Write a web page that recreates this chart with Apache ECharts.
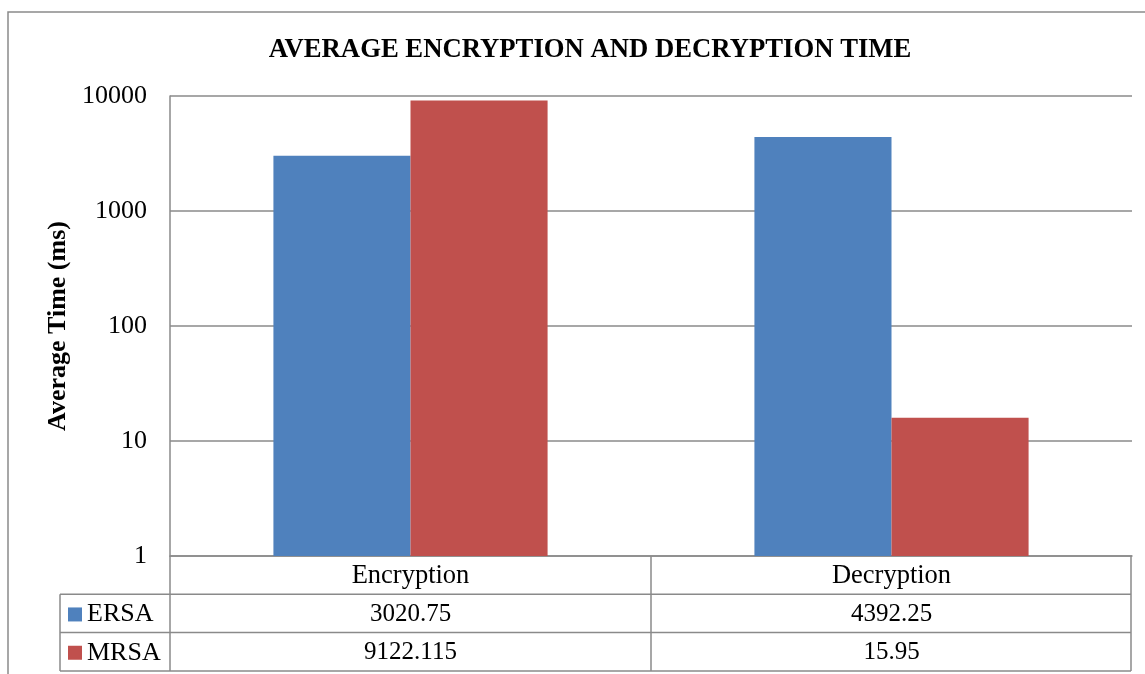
<!DOCTYPE html>
<html>
<head>
<meta charset="utf-8">
<script src="https://cdn.jsdelivr.net/npm/echarts@6/dist/echarts.min.js"></script>
<style>
html,body{margin:0;padding:0;background:#fff;}
#chart{width:1145px;height:674px;}
</style>
</head>
<body>
<div id="chart"></div>
<script>
const titleText = 'AVERAGE ENCRYPTION AND DECRYPTION TIME';
const yAxisName = 'Average Time (ms)';
const categories = ['Encryption', 'Decryption'];
const seriesNames = ['ERSA', 'MRSA'];
const ersaValues = [3020.75, 4392.25];
const mrsaValues = [9122.115, 15.95];
const ersaLabels = ['3020.75', '4392.25'];
const mrsaLabels = ['9122.115', '15.95'];
const yTickLabels = ['1', '10', '100', '1000', '10000'];
const colors = ['#4F81BD', '#C0504D'];

(function () {
const FONT = '"Liberation Serif", "Times New Roman", serif';
const LINE = '#8a8a8a';
const GRID = {left: 170, top: 96, right: 13, bottom: 118};

const chart = echarts.init(document.getElementById('chart'), null, {renderer: 'canvas'});

const option = {
  animation: false,
  backgroundColor: '#fff',
  textStyle: {fontFamily: FONT},
  title: {
    text: titleText,
    left: 585,
    textAlign: 'center',
    top: 32,
    textStyle: {fontFamily: FONT, fontSize: 26.7, fontWeight: 'bold', color: '#000'}
  },
  grid: GRID,
  xAxis: {
    type: 'category',
    data: categories,
    axisLabel: {show: false},
    axisTick: {show: false},
    axisLine: {show: true, lineStyle: {color: LINE, width: 1.5}}
  },
  yAxis: {
    type: 'log',
    logBase: 10,
    min: 1,
    max: 10000,
    name: yAxisName,
    nameLocation: 'middle',
    nameGap: 98,
    nameTextStyle: {fontFamily: FONT, fontSize: 26, fontWeight: 'bold', color: '#000'},
    axisLine: {show: true, lineStyle: {color: LINE, width: 1.5}},
    axisTick: {show: false},
    axisLabel: {
      fontFamily: FONT, fontSize: 26, color: '#000', margin: 23,
      formatter: function (v) {
        const idx = Math.round(Math.log10(v));
        return yTickLabels[idx] !== undefined ? yTickLabels[idx] : String(v);
      }
    },
    splitLine: {show: true, lineStyle: {color: LINE, width: 1.5}}
  },
  series: [
    {name: seriesNames[0], type: 'bar', data: ersaValues, itemStyle: {color: colors[0]}, barGap: '0%', barCategoryGap: '43%'},
    {name: seriesNames[1], type: 'bar', data: mrsaValues, itemStyle: {color: colors[1]}, barGap: '0%', barCategoryGap: '43%'}
  ]
};
chart.setOption(option);

// Data table below the plot
const tLeft = GRID.left;
const tRight = 1145 - GRID.right - 1;
const tTop = 674 - GRID.bottom;
const rowH = 38.3;
const legendLeft = 60;
const c0 = chart.convertToPixel({xAxisIndex: 0}, categories[0]);
const c1 = chart.convertToPixel({xAxisIndex: 0}, categories[1]);
const mid = (c0 + c1) / 2;
const centers = [c0, c1];
const rowY = [tTop, tTop + rowH, tTop + 2 * rowH, tTop + 3 * rowH];

const g = [];
function line(x1, y1, x2, y2) {
  g.push({type: 'line', shape: {x1: x1, y1: y1, x2: x2, y2: y2}, style: {stroke: LINE, lineWidth: 1.5}, silent: true});
}
function text(x, y, s, align, size) {
  g.push({type: 'text', x: x, y: y, style: {text: s, font: (size || 25) + 'px ' + FONT, fill: '#000', align: align || 'center', verticalAlign: 'middle'}, silent: true});
}
g.push({type: 'rect', shape: {x: 8, y: 12, width: 1200, height: 800}, style: {fill: 'none', stroke: LINE, lineWidth: 1.5}, silent: true});
line(legendLeft, rowY[1], tRight, rowY[1]);
line(legendLeft, rowY[2], tRight, rowY[2]);
line(legendLeft, rowY[3], tRight, rowY[3]);
line(legendLeft, rowY[1], legendLeft, rowY[3]);
line(tLeft, rowY[0], tLeft, rowY[3]);
line(mid, rowY[0], mid, rowY[3]);
line(tRight, rowY[0], tRight, rowY[3]);
categories.forEach(function (c, i) { text(centers[i], (rowY[0] + rowY[1]) / 2 + 1, c, 'center', 26.5); });
const rows = [ersaLabels, mrsaLabels];
rows.forEach(function (vals, r) {
  const cy = (rowY[r + 1] + rowY[r + 2]) / 2 + 1;
  g.push({type: 'rect', shape: {x: 68, y: cy - 7, width: 14, height: 14}, style: {fill: colors[r]}, silent: true});
  text(87, cy, seriesNames[r], 'left', 26);
  vals.forEach(function (v, i) { text(centers[i], cy, v, 'center', 25); });
});
chart.setOption({graphic: g});
})();
</script>
</body>
</html>
